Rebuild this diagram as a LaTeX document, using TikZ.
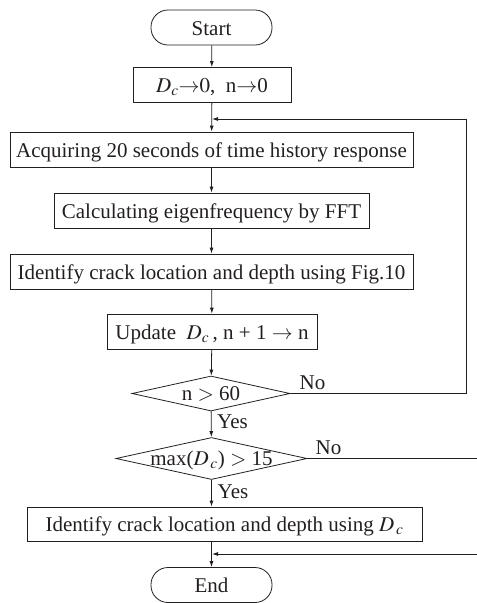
\documentclass[tikz,border=0pt]{standalone}
\usepackage{mathptmx}
\usepackage[no-math]{fontspec}
\setmainfont{Liberation Serif}
\usepackage{tikz}
\usetikzlibrary{shapes.geometric, arrows.meta, positioning}
\definecolor{InkBlack}{HTML}{231F20}
\newcommand{\flowfont}{\fontsize{21}{25}\selectfont}
\tikzset{
  % Box styles
  termbox/.style={rectangle, rounded corners=17pt, draw=InkBlack, minimum width=121pt, minimum height=35pt, inner sep=0pt, text height=15pt, text depth=0pt, font=\flowfont, text=InkBlack},
  procbox/.style={rectangle, draw=InkBlack, minimum height=35pt, inner sep=0pt, text height=15pt, text depth=0pt, font=\flowfont, text=InkBlack},
  decbox/.style={diamond, draw=InkBlack, inner sep=0pt, text height=14pt, text depth=0pt, font=\flowfont, text=InkBlack},
  % Arrow styles
  arrow/.style={-{Latex[length=6pt,width=4pt]}, InkBlack, line width=0.8pt},
  % Label styles
  branch/.style={font=\flowfont, text=InkBlack, inner sep=0pt}
}

\begin{document}
\begin{tikzpicture}[x=1pt, y=-1pt, line width=0.8pt]
  \clip (0,0) rectangle (477,603);

  % Main column
  \node[termbox] (start) at (211.5,27.5) {Start};
  \node[procbox, minimum width=158pt] (init) at (212,85) {$D_c{\rightarrow}0$,\ \ n${\rightarrow}$0};
  \node[procbox, minimum width=403pt] (acquire) at (211.5,149.5) {Acquiring 20 seconds of time history response};
  \node[procbox, minimum width=315pt] (fft) at (211.5,210.5) {Calculating eigenfrequency by FFT};
  \node[procbox, minimum width=403pt] (locate) at (211.5,271.5) {Identify crack location and depth using Fig.10};
  \node[procbox, minimum width=210pt] (update) at (212,331.5) {Update \ $D_c$\,, n + 1 $\rightarrow$ n};

  % Decisions
  \node[decbox, minimum width=158pt, minimum height=35pt, aspect=4.5] (count) at (211,393.5) {n $>$ 60};
  \node[decbox, minimum width=191pt, minimum height=42pt, aspect=4.55] (check) at (211.5,458.5) {max($D_{\,c}$) $>$ 15};

  % Result and end
  \node[procbox, minimum width=395pt, minimum height=34pt] (result) at (224.5,524) {Identify crack location and depth using $D_{\,c}$};
  \node[termbox] (stop) at (211.5,585) {End};

  % Junctions
  \coordinate (j1) at (212,119);
  \coordinate (r1) at (466,119);
  \coordinate (j2) at (212,554);
  \coordinate (r2) at (484,554);

  % Arrows
  \draw[arrow] (start) -- (init);
  \draw[arrow] (init) -- (acquire);
  \draw[arrow] (acquire) -- (fft);
  \draw[arrow] (fft) -- (locate);
  \draw[arrow] (locate) -- (update);
  \draw[arrow] (update) -- (count);
  \draw[arrow] (count) -- (check);
  \draw[arrow] (check.south) -- (check.south |- result.north);
  \draw[arrow] (result.south -| stop.north) -- (stop.north);
  \draw[arrow] (count.east) -| (r1) -- (j1);
  \draw[arrow] (check.east) -| (r2) -- (j2);

  % Branch labels
  \node[branch] (no1) at (312.5,383) {No};
  \node[branch] (yes1) at (232.5,422) {Yes};
  \node[branch] (no2) at (328.5,448) {No};
  \node[branch] (yes2) at (233,492) {Yes};
\end{tikzpicture}
\end{document}
